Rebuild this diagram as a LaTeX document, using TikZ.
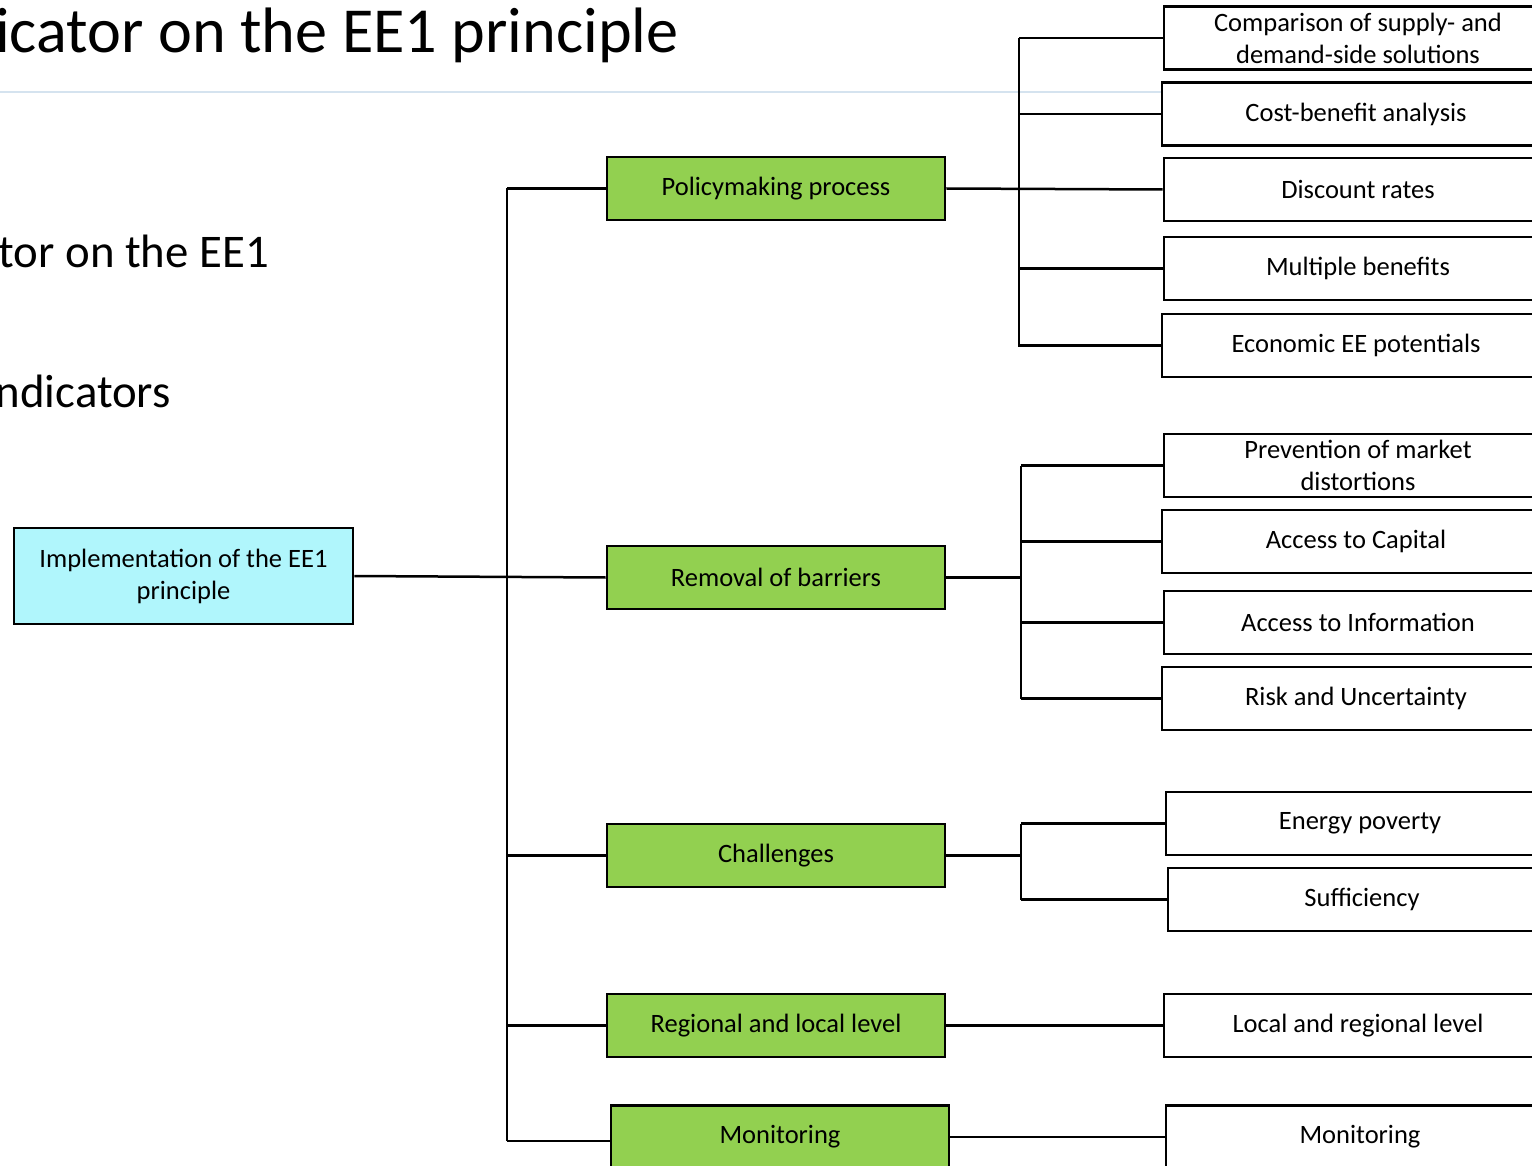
\documentclass[tikz,border=0pt]{standalone}
\usepackage{fontspec}
\setmainfont{Carlito}
\definecolor{rootfill}{HTML}{B0F6FC}
\definecolor{greenfill}{HTML}{92D050}
\definecolor{ruleblue}{HTML}{D5E3EF}
\begin{document}
\begin{tikzpicture}[x=1pt,y=-1pt,
  boxbase/.style={draw=black,line width=2.8pt,inner sep=2pt,align=center,
    font=\fontsize{26.5}{32}\selectfont},
  rootbox/.style={boxbase,fill=rootfill,minimum width=339pt,minimum height=96pt},
  catbox/.style={boxbase,fill=greenfill,minimum width=338pt,minimum height=63pt},
  leafbox/.style={boxbase,fill=white,minimum width=388pt,minimum height=63pt,line width=2.6pt},
  conn/.style={draw=black,line width=2.5pt},
  bigtext/.style={anchor=base east,inner sep=0pt}]
\useasboundingbox (0,0) rectangle (1532,1166);
\clip (0,0) rectangle (1532,1166);
% title and background texts
\coordinate (ruleL) at (0,92);
\coordinate (ruleR) at (1532,92);
\draw[ruleblue,line width=2pt] (ruleL) -- (ruleR);
\node[bigtext,font=\fontsize{64.2}{77}\selectfont] (title) at (679,53) {icator on the EE1 principle};
\node[bigtext,font=\fontsize{46.8}{56}\selectfont] (t2) at (269,268) {tor on the EE1};
\node[bigtext,font=\fontsize{46.8}{56}\selectfont] (t3) at (171,407) {ndicators};
% root
\node[rootbox] (root) at (183.5,576) {Implementation of the EE1\\principle};
% categories
\node[catbox] (pol) at (776,188.5) {Policymaking process};
\node[catbox] (rem) at (776,577.5) {Removal of barriers};
\node[catbox] (chal) at (776,855.5) {Challenges};
\node[catbox] (reg) at (776,1025.5) {Regional and local level};
\node[catbox] (mon) at (780,1137) {Monitoring};
% leaves
\node[leafbox] (cmp) at (1358,38) {Comparison of supply- and\\demand-side solutions};
\node[leafbox] (cba) at (1356,114) {Cost-benefit analysis};
\node[leafbox] (disc) at (1358,189.5) {Discount rates};
\node[leafbox] (mb) at (1358,268.5) {Multiple benefits};
\node[leafbox] (eco) at (1356,345.5) {Economic EE potentials};
\node[leafbox] (prev) at (1358,465.5) {Prevention of market\\distortions};
\node[leafbox] (cap) at (1356,541.5) {Access to Capital};
\node[leafbox] (info) at (1358,622.5) {Access to Information};
\node[leafbox] (risk) at (1356,698.5) {Risk and Uncertainty};
\node[leafbox] (enp) at (1360,823.5) {Energy poverty};
\node[leafbox] (suff) at (1362,899.5) {Sufficiency};
\node[leafbox] (loc) at (1358,1025.5) {Local and regional level};
\node[leafbox] (mon2) at (1360,1137) {Monitoring};
% trunk
\coordinate (trtop) at (507,188.5);
\coordinate (trbot) at (507,1141);
\draw[conn] (trtop) -- (trbot);
\draw[conn] (root.east) -- (rem.west);
\draw[conn] (trtop) -- (pol.west);
\draw[conn] (chal.west -| trtop) -- (chal.west);
\draw[conn] (reg.west -| trtop) -- (reg.west);
\draw[conn] (trbot) -- (trbot -| mon.west);
% policymaking branch
\coordinate (b1top) at (1019,38);
\coordinate (b1bot) at (1019,347);
\draw[conn] (b1top) -- (b1bot);
\draw[conn] (pol.east) -- (disc.west);
\foreach \n in {cmp,cba,mb,eco} \draw[conn] (\n.west -| b1top) -- (\n.west);
% removal branch
\coordinate (b2top) at (1021,465.5);
\coordinate (b2bot) at (1021,698.5);
\draw[conn] (b2top) -- (b2bot);
\draw[conn] (rem.east) -- (rem.east -| b2top);
\foreach \n in {prev,cap,info,risk} \draw[conn] (\n.west -| b2top) -- (\n.west);
% challenges branch
\coordinate (b3top) at (1021,823.5);
\coordinate (b3bot) at (1021,899.5);
\draw[conn] (b3top) -- (b3bot);
\draw[conn] (chal.east) -- (chal.east -| b3top);
\foreach \n in {enp,suff} \draw[conn] (\n.west -| b3top) -- (\n.west);
% direct links
\draw[conn] (reg.east) -- (loc.west);
\draw[conn] (mon.east) -- (mon2.west);
\end{tikzpicture}
\end{document}
